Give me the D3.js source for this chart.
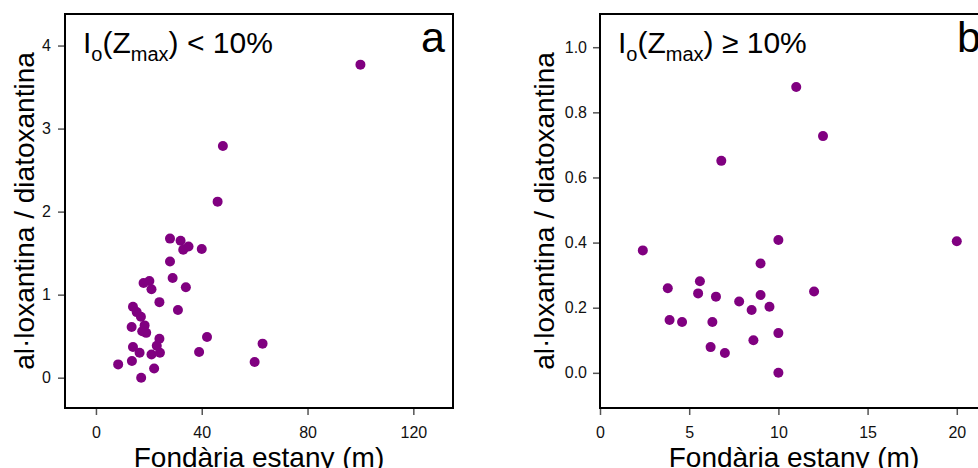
<!DOCTYPE html>
<html>
<head>
<meta charset="utf-8">
<script src="https://cdn.jsdelivr.net/npm/d3@7"></script>
<style>
    html, body { margin: 0; padding: 0; background: #fff; }
    svg { display: block; }
</style>
</head>
<body>
<div class="graph"></div>
<script>
// panel a: Io(Zmax) < 10%
const depthA = [100, 48, 46, 28, 32, 35, 33, 40, 28, 29, 34, 18, 20.2, 21, 24, 31, 14, 15.4, 17,
        13.5, 18.4, 17.5, 19, 42, 24, 23, 14, 63, 16.5, 24.2, 21, 39, 13.6, 8.4, 60, 22, 17.1];
const ratioA = [3.77, 2.79, 2.12, 1.675, 1.65, 1.58, 1.54, 1.55, 1.40, 1.20, 1.09, 1.14, 1.165, 1.065, 0.91, 0.815, 0.855, 0.79, 0.735,
        0.61, 0.63, 0.56, 0.54, 0.49, 0.47, 0.385, 0.37, 0.41, 0.30, 0.30, 0.28, 0.31, 0.20, 0.16, 0.19, 0.11, 0.0];

// panel b: Io(Zmax) >= 10%
const depthB = [11, 12.5, 6.8, 10, 20, 2.4, 9, 5.6, 3.8, 12, 5.5, 6.5, 9, 7.8, 9.5, 8.5,
        3.9, 4.6, 6.3, 10, 8.6, 6.2, 7, 10];
const ratioB = [0.878, 0.727, 0.651, 0.408, 0.404, 0.376, 0.336, 0.281, 0.260, 0.250, 0.244, 0.234, 0.239, 0.219, 0.203, 0.193,
        0.162, 0.156, 0.156, 0.122, 0.100, 0.079, 0.061, 0.0];

const xTicksA = [0, 40, 80, 120];
const yTicksA = [0, 1, 2, 3, 4];
const xTicksB = [0, 5, 10, 15, 20];
const yTicksB = [0, 0.2, 0.4, 0.6, 0.8, 1.0];

const xLimA = [-11.7, 135];
const yLimA = [-0.365, 4.38];
const xLimB = [0, 21.75];
const yLimB = [-0.108, 1.102];

const xTitle = "Fondària estany (m)";
const yTitle = "al·loxantina / diatoxantina";

const width = 978;
const height = 468;
const plotTop = 14;
const plotBottom = 408;
const panelWidth = 388;
const font = "'Liberation Sans', Arial, Helvetica, sans-serif";
const pointColor = "#800080";

const svg = d3.select(".graph")
        .append("svg")
        .attr("width", width)
        .attr("height", height)
        .attr("font-family", font);

function drawPanel(opts) {
    const left = opts.left;
    const right = left + panelWidth;

    const x = d3.scaleLinear().domain(opts.xLim).range([left, right]);
    const y = d3.scaleLinear().domain(opts.yLim).range([plotBottom, plotTop]);

    const xAxis = svg.append("g")
            .attr("transform", `translate(0,${plotBottom})`)
            .call(d3.axisBottom(x)
                    .tickValues(opts.xTicks)
                    .tickSize(7)
                    .tickPadding(12)
                    .tickSizeOuter(0));
    xAxis.select(".domain").remove();
    xAxis.selectAll(".tick line").attr("stroke", "#555").attr("stroke-width", 1.5);
    xAxis.selectAll(".tick text")
            .attr("font-size", 16)
            .attr("font-family", font)
            .attr("fill", "#111");

    const yAxis = svg.append("g")
            .attr("transform", `translate(${left},0)`)
            .call(d3.axisLeft(y)
                    .tickValues(opts.yTicks)
                    .tickFormat(opts.yFormat)
                    .tickSize(7)
                    .tickPadding(opts.yPad)
                    .tickSizeOuter(0));
    yAxis.select(".domain").remove();
    yAxis.selectAll(".tick line").attr("stroke", "#555").attr("stroke-width", 1.5);
    yAxis.selectAll(".tick text")
            .attr("font-size", 16)
            .attr("font-family", font)
            .attr("fill", "#111");

    svg.append("g")
            .selectAll("circle")
            .data(opts.xs).enter()
            .append("circle")
            .attr("cx", d => x(d))
            .attr("cy", (_, i) => y(opts.ys[i]))
            .attr("r", 5)
            .attr("fill", pointColor);

    svg.append("rect")
            .attr("x", left)
            .attr("y", plotTop)
            .attr("width", panelWidth)
            .attr("height", plotBottom - plotTop)
            .attr("fill", "none")
            .attr("stroke", "#000")
            .attr("stroke-width", 2);

    // condition label with subscripts
    const cond = svg.append("text")
            .attr("x", left + 18)
            .attr("y", 53)
            .attr("font-size", 30)
            .attr("fill", "#000");
    cond.append("tspan").text("I");
    cond.append("tspan").attr("font-size", 20).attr("dy", 8).text("o");
    cond.append("tspan").attr("dy", -8).text("(Z");
    cond.append("tspan").attr("font-size", 20).attr("dy", 8).text("max");
    cond.append("tspan").attr("dy", -8).text(opts.condition);

    svg.append("text")
            .attr("x", opts.letterX)
            .attr("y", 52)
            .attr("font-size", 43)
            .attr("fill", "#000")
            .text(opts.letter);

    svg.append("text")
            .attr("x", (left + right) / 2)
            .attr("y", 467)
            .attr("text-anchor", "middle")
            .attr("font-size", 28)
            .attr("fill", "#000")
            .text(xTitle);

    svg.append("text")
            .attr("transform", `translate(${opts.yTitleX},211) rotate(-90)`)
            .attr("text-anchor", "middle")
            .attr("font-size", 28)
            .attr("fill", "#000")
            .text(yTitle);
}

drawPanel({
    left: 65,
    xs: depthA,
    ys: ratioA,
    xLim: xLimA,
    yLim: yLimA,
    xTicks: xTicksA,
    yTicks: yTicksA,
    yFormat: d3.format("d"),
    yPad: 7,
    condition: ") < 10%",
    letter: "a",
    letterX: 421,
    yTitleX: 33.5,
});

drawPanel({
    left: 600,
    xs: depthB,
    ys: ratioB,
    xLim: xLimB,
    yLim: yLimB,
    xTicks: xTicksB,
    yTicks: yTicksB,
    yFormat: d3.format(".1f"),
    yPad: 6,
    condition: ") \u2265 10%",
    letter: "b",
    letterX: 957,
    yTitleX: 553.5,
});
</script>
</body>
</html>
